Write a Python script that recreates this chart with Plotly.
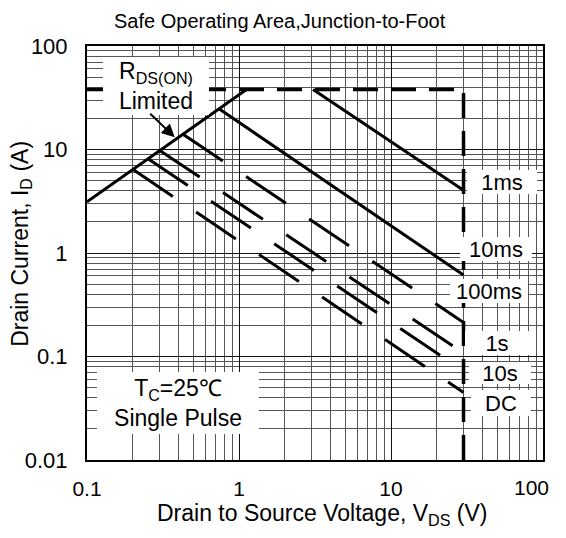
import plotly.graph_objects as go

# ---------------- data ----------------
# R_DS(ON) limit line
rds_vds = [0.1, 1.12]
rds_id = [3.12, 38.0]

# package current limit (horizontal) + Vds max (vertical)
limit_vds = [0.1, 30.0, 30.0]
limit_id = [38.0, 38.0, 0.01]

# pulse-width curves (start on the Rds/Id limit, end at Vds = 30 V)
soa_names = ["1ms", "10ms", "100ms", "1s", "10s", "DC"]
soa_vds = [
    [3.07, 30.0],
    [0.746, 30.0],
    [0.428, 30.0],
    [0.301, 30.0],
    [0.252, 30.0],
    [0.201, 30.0],
]
soa_id = [
    [38.0, 4.05],
    [24.5, 0.612],
    [14.06, 0.213],
    [9.8, 0.108],
    [8.13, 0.0724],
    [6.4, 0.0449],
]
soa_dashed = [False, False, True, True, True, True]

# axis ticks
x_major = [0.1, 1, 10, 100]
x_major_text = ["0.1", "1", "10", ""]      # "100" placed separately (shifted left like the reference)
x_last_label = "100"
y_major = [0.01, 0.1, 1, 10, 100]
y_major_text = ["0.01", "0.1", "1", "10", "100"]
x_minor = [m * 10.0 ** e for e in (-1, 0, 1) for m in range(2, 10)]
y_minor = [m * 10.0 ** e for e in (-2, -1, 0, 1) for m in range(2, 10)]

FONT = "Liberation Sans, Arial, sans-serif"

fig = go.Figure()

fig.add_trace(go.Scatter(x=rds_vds, y=rds_id, mode="lines",
                         line=dict(color="black", width=3), showlegend=False))
fig.add_trace(go.Scatter(x=limit_vds, y=limit_id, mode="lines",
                         line=dict(color="black", width=3.5, dash="25px,13px"),
                         showlegend=False))
for name, xs, ys, dsh in zip(soa_names, soa_vds, soa_id, soa_dashed):
    fig.add_trace(go.Scatter(x=xs, y=ys, mode="lines", name=name,
                             line=dict(color="black", width=3,
                                       dash="48px,28px" if dsh else "solid"),
                             showlegend=False))

# page body has an 8px margin on every side -> keep the page free of scrollbars
OFF = 8
W, H = 566 - 2 * OFF, 538 - 2 * OFF
# plot area in page pixels
L, R, T, B = 87.3, 543.3, 45.7, 460.0


def xp(px):
    return (px - L) / (R - L)


def yp(py):
    return (B - py) / (B - T)


annots = []


def box(text, cx, cy, w, h, size=22):
    annots.append(dict(text=text, x=xp(cx), y=yp(cy), xref="paper", yref="paper",
                       showarrow=False, bgcolor="white", width=w, height=h,
                       borderpad=0, borderwidth=0, xanchor="center", yanchor="middle",
                       font=dict(family=FONT, size=size, color="black")))


box("R<sub>DS(ON)</sub><br>Limited", 156, 86, 106, 58, size=23)
box("1ms", 502, 182, 70, 24)
box("10ms", 496, 249, 72, 24)
box("100ms", 489, 291, 78, 24)
box("1s", 497, 343, 64, 24)
box("10s", 500, 373, 62, 22)
box("DC", 501, 403, 60, 26)
box("T<sub>C</sub>=25℃<br>Single Pulse", 178, 403, 162, 62, size=23)

# arrow pointing at the Rds(on) line
annots.append(dict(text="", x=xp(175), y=yp(137), xref="paper", yref="paper",
                   showarrow=True, ax=-26, ay=-25, arrowhead=2, arrowsize=1.3,
                   arrowwidth=2, arrowcolor="black"))

# title
annots.append(dict(text="Safe Operating Area,Junction-to-Foot", x=xp(280), y=yp(21),
                   xref="paper", yref="paper", showarrow=False,
                   xanchor="center", yanchor="middle",
                   font=dict(family=FONT, size=20, color="black")))
# last x tick label
annots.append(dict(text=x_last_label, x=xp(532), y=yp(488),
                   xref="paper", yref="paper", showarrow=False,
                   xanchor="center", yanchor="middle",
                   font=dict(family=FONT, size=21, color="black")))
# axis titles
annots.append(dict(text="Drain to Source Voltage, V<sub>DS</sub> (V)", x=xp(322), y=yp(515),
                   xref="paper", yref="paper", showarrow=False,
                   xanchor="center", yanchor="middle",
                   font=dict(family=FONT, size=23, color="black")))
annots.append(dict(text="Drain Current, I<sub>D</sub> (A)", x=xp(21), y=yp(244),
                   xref="paper", yref="paper", showarrow=False, textangle=-90,
                   xanchor="center", yanchor="middle",
                   font=dict(family=FONT, size=23, color="black")))

fig.update_layout(
    width=W, height=H,
    margin=dict(l=L - OFF, r=W - (R - OFF), t=T - OFF, b=H - (B - OFF)),
    paper_bgcolor="white", plot_bgcolor="white",
    font=dict(family=FONT, size=21, color="black"),
    annotations=annots,
)

common = dict(type="log", showline=True, linecolor="black", linewidth=2, mirror=True,
              ticks="", showgrid=True, gridcolor="#111", gridwidth=1,
              zeroline=False, automargin=False)

fig.update_xaxes(range=[-1, 2], tickvals=x_major, ticktext=x_major_text,
                 ticklabelstandoff=9,
                 tickfont=dict(family=FONT, size=21, color="black"),
                 minor=dict(tickvals=x_minor, showgrid=True, gridcolor="#555",
                            gridwidth=1, ticks=""),
                 **common)
fig.update_yaxes(range=[-2, 2], tickvals=y_major, ticktext=y_major_text,
                 ticklabelstandoff=13,
                 tickfont=dict(family=FONT, size=22, color="black"),
                 minor=dict(tickvals=y_minor, showgrid=True, gridcolor="#555",
                            gridwidth=1, ticks=""),
                 **common)

fig.write_html("out.html")
